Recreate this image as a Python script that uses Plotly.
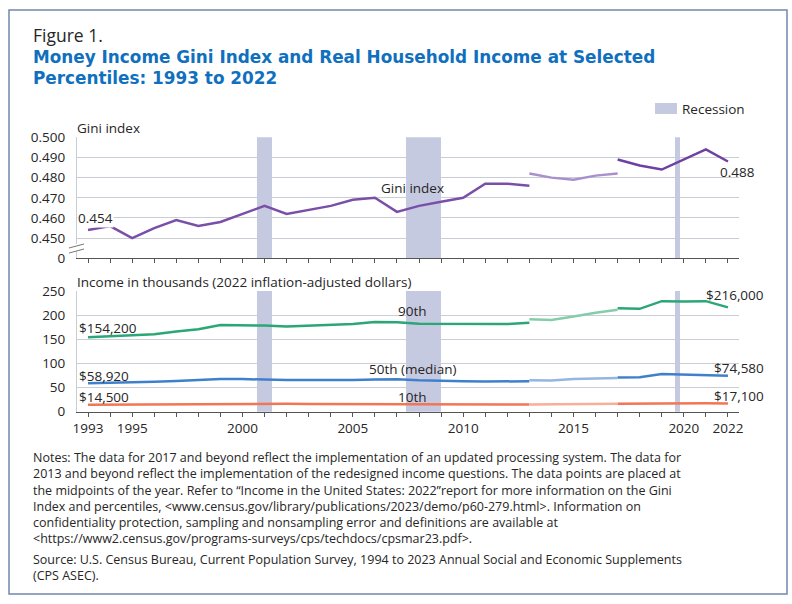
import plotly.graph_objects as go

W, H = 792, 604

# ---------------- data ----------------
years_a = list(range(1993, 2014))          # old processing, old questions
years_b = list(range(2013, 2018))          # redesigned questions
years_c = list(range(2017, 2023))          # updated processing system

gini_a = [0.454, 0.456, 0.450, 0.455, 0.459, 0.456, 0.458, 0.462, 0.466, 0.462,
          0.464, 0.466, 0.469, 0.470, 0.463, 0.466, 0.468, 0.470, 0.477, 0.477, 0.476]
gini_b = [0.482, 0.480, 0.479, 0.481, 0.482]
gini_c = [0.489, 0.486, 0.484, 0.489, 0.494, 0.488]

p90_a = [154.2, 156.0, 157.7, 160.5, 166.0, 171.0, 179.5, 179.5, 178.5, 176.5,
         178.5, 179.0, 181.5, 186.0, 185.5, 182.0, 182.0, 181.0, 181.0, 181.5, 184.0]
p90_b = [191.5, 190.0, 197.0, 205.0, 211.0]
p90_c = [214.5, 213.0, 229.0, 228.0, 229.0, 216.0]

p50_a = [58.92, 59.6, 61.3, 62.2, 63.5, 66.0, 67.5, 67.5, 66.1, 65.4,
         65.4, 65.2, 65.9, 66.5, 67.1, 65.1, 64.8, 63.3, 62.5, 62.4, 63.1]
p50_b = [65.0, 64.4, 67.6, 69.2, 70.0]
p50_c = [71.0, 71.2, 78.3, 76.7, 76.3, 74.58]

p10_a = [14.5, 14.8, 15.5, 15.6, 15.9, 16.4, 17.0, 17.3, 16.9, 16.4,
         16.0, 15.9, 16.0, 16.3, 16.2, 15.6, 15.3, 14.8, 14.7, 14.8, 14.9]
p10_b = [14.9, 15.0, 15.7, 16.3, 16.4]
p10_c = [16.6, 16.9, 18.3, 17.5, 17.4, 17.1]

recession_starts = [2001.17, 2007.92, 2020.08]
recession_ends = [2001.83, 2009.50, 2020.33]

tick_years = list(range(1993, 2023))
labeled_years = [1993, 1995, 2000, 2005, 2010, 2015, 2020, 2022]

gini_range = [0.44, 0.50]
gini_ticks = [0.44, 0.45, 0.46, 0.47, 0.48, 0.49, 0.50]
gini_ticktext = ["0", "0.450", "0.460", "0.470", "0.480", "0.490", "0.500"]
income_range = [0, 250]
income_ticks = [0, 50, 100, 150, 200, 250]

notes_lines = [
    "Notes: The data for 2017 and beyond reflect the implementation of an updated processing system. The data for",
    "2013 and beyond reflect the implementation of the redesigned income questions. The data points are placed at",
    "the midpoints of the year. Refer to \u201cIncome in the United States: 2022\u201dreport for more information on the Gini",
    "Index and percentiles, &lt;www.census.gov/library/publications/2023/demo/p60-279.html&gt;. Information on",
    "confidentiality protection, sampling and nonsampling error and definitions are available at",
    "&lt;https://www2.census.gov/programs-surveys/cps/techdocs/cpsmar23.pdf&gt;.",
]
source_lines = [
    "Source: U.S. Census Bureau, Current Population Survey, 1994 to 2023 Annual Social and Economic Supplements",
    "(CPS ASEC).",
]

# ---------------- style ----------------
FONT = "Open Sans"
TXT = "#262626"
GRID = "#C9CED6"
REC = "#C6CAE0"
PURPLE, PURPLE_L, PURPLE_D = "#7A4FA8", "#A98FCB", "#6D40A2"
GREEN, GREEN_L = "#2BA676", "#86CCAB"
BLUE, BLUE_L = "#3F80CC", "#94B6E2"
ORANGE, ORANGE_L = "#F27656", "#F6AF9A"


def px(x):
    return x / W


def py(y):
    return 1 - y / H


def mid(ys):
    return [y + 0.5 for y in ys]


fig = go.Figure()

# recession bands (bars spanning the full value range)
rec_x = [(s + e) / 2 for s, e in zip(recession_starts, recession_ends)]
rec_w = [e - s for s, e in zip(recession_starts, recession_ends)]
for xa, ya, rng in [("x", "y", gini_range), ("x2", "y2", income_range)]:
    fig.add_trace(go.Bar(x=rec_x, width=rec_w, y=[rng[1] - rng[0]] * len(rec_x),
                         base=[rng[0]] * len(rec_x), marker=dict(color=REC, line=dict(width=0)),
                         xaxis=xa, yaxis=ya, showlegend=False, hoverinfo="skip"))

segments_top = [(years_a, gini_a, PURPLE), (years_b, gini_b, PURPLE_L), (years_c, gini_c, PURPLE_D)]
for ys, vals, col in segments_top:
    fig.add_trace(go.Scatter(x=mid(ys), y=vals, mode="lines", line=dict(color=col, width=2.5),
                             xaxis="x", yaxis="y", showlegend=False, hoverinfo="skip"))

for series in [
    [(years_a, p90_a, GREEN), (years_b, p90_b, GREEN_L), (years_c, p90_c, GREEN)],
    [(years_a, p50_a, BLUE), (years_b, p50_b, BLUE_L), (years_c, p50_c, BLUE)],
    [(years_a, p10_a, ORANGE), (years_b, p10_b, ORANGE_L), (years_c, p10_c, ORANGE)],
]:
    for ys, vals, col in series:
        fig.add_trace(go.Scatter(x=mid(ys), y=vals, mode="lines", line=dict(color=col, width=2.5),
                                 xaxis="x2", yaxis="y2", showlegend=False, hoverinfo="skip"))

xdom = [px(77), px(739)]
tick_text = [str(y) if y in labeled_years else "" for y in tick_years]
common_x = dict(range=[1993, 2023], domain=xdom, tickmode="array", tickvals=mid(tick_years),
                ticks="outside", ticklen=4, tickcolor="#555", showline=True, linecolor="#555",
                linewidth=1, showgrid=False, zeroline=False, fixedrange=True, automargin=False,
                tickfont=dict(family=FONT, size=13.5, color=TXT))

shapes = []
# axis break marks on top chart
shapes.append(dict(type="rect", xref="paper", yref="paper", x0=px(74), x1=px(80), y0=py(251), y1=py(244),
                   fillcolor="white", line=dict(width=0), layer="above"))
for dy in [0, 5]:
    shapes.append(dict(type="line", xref="paper", yref="paper", x0=px(69), x1=px(84),
                       y0=py(248 + dy), y1=py(244 + dy), line=dict(color="#777", width=1)))

# recession legend swatch
shapes.append(dict(type="rect", xref="paper", yref="paper", x0=px(655), x1=px(677), y0=py(114), y1=py(103),
                   fillcolor=REC, line=dict(width=0)))

# outer border
shapes.append(dict(type="rect", xref="paper", yref="paper", x0=px(9), x1=px(787), y0=py(594), y1=py(10),
                   fillcolor="rgba(0,0,0,0)", line=dict(color="#7088AD", width=1.5)))

ann = []


def add_text(text, x, y, size=13.5, color=TXT, xanchor="left", bold=False, family=FONT, yanchor="middle"):
    t = f"<b>{text}</b>" if bold else text
    ann.append(dict(text=t, x=px(x), y=py(y), xref="paper", yref="paper", showarrow=False,
                    xanchor=xanchor, yanchor=yanchor, align="left",
                    font=dict(family=family, size=size, color=color)))


add_text("Figure 1.", 31, 35, size=17.5)
add_text("Money Income Gini Index and Real Household Income at Selected", 31, 57, size=16.85,
         color="#1070BE", bold=True, family="DejaVu Sans")
add_text("Percentiles: 1993 to 2022", 31, 78, size=16.85, color="#1070BE", bold=True, family="DejaVu Sans")
add_text("Recession", 680, 108.5)
add_text("Gini index", 75, 128)
add_text("Income in thousands (2022 inflation-adjusted dollars)", 75, 282)
add_text("Gini index", 412, 188, xanchor="center")
add_text("90th", 412, 311, xanchor="center")
add_text("50th (median)", 413, 369, xanchor="center")
add_text("10th", 412, 397, xanchor="center")


def data_label(text, x, y, xref, yref, xanchor, xshift, yshift, bg=None):
    d = dict(text=text, x=x, y=y, xref=xref, yref=yref, showarrow=False, xanchor=xanchor,
             yanchor="middle", xshift=xshift, yshift=yshift,
             font=dict(family=FONT, size=13.5, color=TXT))
    if bg:
        d["bgcolor"] = bg
        d["borderpad"] = 0
    ann.append(d)


data_label("0.454", years_a[0] + 0.5, gini_a[0], "x", "y", "left", -11, 12, bg="white")
data_label("0.488", years_c[-1] + 0.5, gini_c[-1], "x", "y", "left", -10, -10)
data_label("$154,200", years_a[0] + 0.5, p90_a[0], "x2", "y2", "left", -11, 9)
data_label("$58,920", years_a[0] + 0.5, p50_a[0], "x2", "y2", "left", -11, 7)
data_label("$14,500", years_a[0] + 0.5, p10_a[0], "x2", "y2", "left", -11, 8)
data_label("$216,000", years_c[-1] + 0.5, p90_c[-1], "x2", "y2", "right", 38, 12)
data_label("$74,580", years_c[-1] + 0.5, p50_c[-1], "x2", "y2", "right", 38, 8)
data_label("$17,100", years_c[-1] + 0.5, p10_c[-1], "x2", "y2", "right", 38, 7)

add_text("<br>".join(notes_lines), 31, 447, size=12.5, yanchor="top")
add_text("<br>".join(source_lines), 31, 548.5, size=12.5, yanchor="top")

fig.update_layout(
    width=W, height=H, margin=dict(l=0, r=0, t=0, b=0, autoexpand=False),
    paper_bgcolor="white", plot_bgcolor="white", barmode="overlay", bargap=0,
    xaxis=dict(common_x, anchor="y", showticklabels=False),
    xaxis2=dict(common_x, anchor="y2", ticktext=tick_text),
    yaxis=dict(domain=[py(258.3), py(137.3)], range=gini_range, tickmode="array",
               tickvals=gini_ticks, ticktext=gini_ticktext, showgrid=True, gridcolor=GRID,
               gridwidth=1, showline=True, linecolor=GRID, zeroline=False, ticks="", automargin=False,
               ticklabelstandoff=8, fixedrange=True, tickfont=dict(family=FONT, size=13.5, color=TXT)),
    yaxis2=dict(domain=[py(411.7), py(291)], range=income_range, tickmode="array",
                tickvals=income_ticks, showgrid=True, gridcolor=GRID, gridwidth=1,
                showline=True, linecolor=GRID, zeroline=False, ticks="", automargin=False,
                ticklabelstandoff=8, fixedrange=True, tickfont=dict(family=FONT, size=13.5, color=TXT)),
    shapes=shapes, annotations=ann, showlegend=False,
)

fig.write_html(
    "out.html",
    config={"displayModeBar": False, "responsive": False},
    post_script=("document.documentElement.style.margin='0';document.documentElement.style.padding='0';"
                 "document.documentElement.style.overflow='hidden';"
                 "document.body.style.margin='0';document.body.style.padding='0';"
                 "document.body.style.overflow='hidden';"),
)
